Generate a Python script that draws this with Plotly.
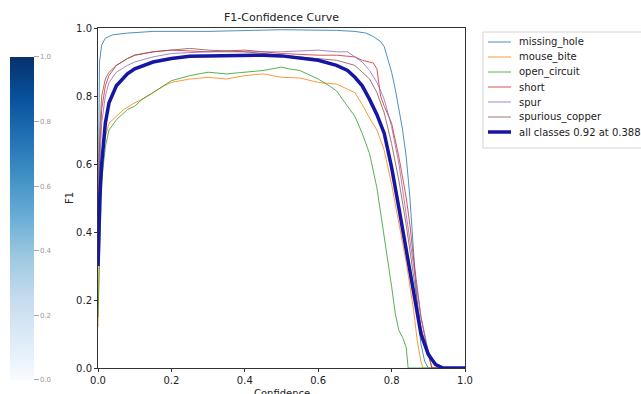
import plotly.graph_objects as go

# ---------------- data ----------------
class_names = ["missing_hole", "mouse_bite", "open_circuit", "short", "spur", "spurious_copper"]
class_colors = ["#1f77b4", "#ff7f0e", "#2ca02c", "#d62728", "#9467bd", "#8c564b"]

missing_hole_x = [0.0, 0.004, 0.01, 0.02, 0.04, 0.08, 0.15, 0.3, 0.5, 0.6, 0.65, 0.7, 0.73, 0.75, 0.77,
                  0.78, 0.79, 0.8, 0.81, 0.82, 0.83, 0.84, 0.85, 0.86, 0.87, 0.88, 0.89, 0.9, 1.0]
missing_hole_y = [0.40, 0.90, 0.95, 0.97, 0.98, 0.985, 0.99, 0.99, 0.995, 0.995, 0.993, 0.99, 0.985, 0.975, 0.96,
                  0.945, 0.91, 0.87, 0.82, 0.76, 0.70, 0.62, 0.50, 0.34, 0.18, 0.07, 0.02, 0.0, 0.0]

mouse_bite_x = [0.0, 0.005, 0.01, 0.02, 0.03, 0.05, 0.07, 0.1, 0.12, 0.15, 0.18, 0.2, 0.25, 0.3, 0.35, 0.4,
                0.45, 0.5, 0.55, 0.6, 0.63, 0.65, 0.68, 0.7, 0.72, 0.74, 0.76, 0.78, 0.8, 0.82, 0.84, 0.86,
                0.87, 0.88, 0.885, 1.0]
mouse_bite_y = [0.12, 0.45, 0.60, 0.68, 0.72, 0.74, 0.76, 0.78, 0.79, 0.81, 0.83, 0.84, 0.85, 0.855, 0.85, 0.86,
                0.865, 0.855, 0.853, 0.84, 0.838, 0.835, 0.82, 0.81, 0.775, 0.735, 0.70, 0.64, 0.54, 0.42, 0.31, 0.17,
                0.08, 0.02, 0.0, 0.0]

open_circuit_x = [0.0, 0.005, 0.01, 0.02, 0.03, 0.05, 0.08, 0.1, 0.12, 0.15, 0.18, 0.2, 0.25, 0.3, 0.35, 0.4,
                  0.45, 0.5, 0.52, 0.55, 0.58, 0.6, 0.63, 0.65, 0.68, 0.7, 0.72, 0.74, 0.76, 0.78, 0.8, 0.81,
                  0.82, 0.83, 0.84, 0.845, 1.0]
open_circuit_y = [0.15, 0.40, 0.55, 0.65, 0.70, 0.73, 0.76, 0.77, 0.79, 0.81, 0.83, 0.845, 0.86, 0.87, 0.865, 0.87,
                  0.875, 0.885, 0.88, 0.875, 0.86, 0.85, 0.83, 0.815, 0.77, 0.74, 0.69, 0.63, 0.53, 0.39, 0.24, 0.16,
                  0.11, 0.09, 0.06, 0.0, 0.0]

short_x = [0.0, 0.005, 0.01, 0.02, 0.03, 0.05, 0.08, 0.1, 0.15, 0.2, 0.3, 0.4, 0.5, 0.6, 0.65, 0.7, 0.72,
           0.75, 0.76, 0.77, 0.78, 0.8, 0.82, 0.84, 0.85, 0.86, 0.88, 0.9, 0.91, 1.0]
short_y = [0.30, 0.65, 0.76, 0.83, 0.86, 0.89, 0.91, 0.92, 0.93, 0.935, 0.93, 0.935, 0.925, 0.92, 0.92, 0.915, 0.905,
           0.897, 0.88, 0.80, 0.77, 0.72, 0.62, 0.50, 0.42, 0.32, 0.15, 0.04, 0.0, 0.0]

spur_x = [0.0, 0.005, 0.01, 0.02, 0.03, 0.05, 0.08, 0.1, 0.15, 0.2, 0.3, 0.4, 0.5, 0.6, 0.65, 0.68, 0.7,
          0.72, 0.74, 0.76, 0.78, 0.8, 0.82, 0.84, 0.86, 0.88, 0.9, 0.92, 0.93, 1.0]
spur_y = [0.30, 0.60, 0.72, 0.80, 0.84, 0.87, 0.89, 0.90, 0.915, 0.925, 0.93, 0.93, 0.93, 0.935, 0.93, 0.93, 0.915,
          0.90, 0.875, 0.84, 0.79, 0.71, 0.60, 0.45, 0.30, 0.15, 0.05, 0.01, 0.0, 0.0]

spurious_copper_x = [0.0, 0.005, 0.01, 0.02, 0.03, 0.05, 0.08, 0.1, 0.15, 0.2, 0.25, 0.3, 0.4, 0.5, 0.6, 0.65,
                     0.7, 0.72, 0.74, 0.76, 0.78, 0.8, 0.82, 0.84, 0.86, 0.88, 0.9, 0.91, 1.0]
spurious_copper_y = [0.45, 0.70, 0.80, 0.85, 0.87, 0.89, 0.91, 0.92, 0.93, 0.935, 0.94, 0.935, 0.93, 0.92, 0.91, 0.905,
                     0.89, 0.87, 0.85, 0.81, 0.75, 0.66, 0.55, 0.42, 0.27, 0.12, 0.04, 0.0, 0.0]

all_x = [0.0, 0.005, 0.01, 0.015, 0.02, 0.03, 0.05, 0.08, 0.1, 0.15, 0.2, 0.25, 0.3, 0.388, 0.45, 0.5, 0.55,
         0.6, 0.65, 0.68, 0.7, 0.72, 0.74, 0.76, 0.78, 0.8, 0.82, 0.84, 0.86, 0.88, 0.9, 0.92, 0.94, 1.0]
all_y = [0.30, 0.50, 0.60, 0.67, 0.72, 0.78, 0.83, 0.865, 0.88, 0.90, 0.91, 0.917, 0.918, 0.92, 0.92, 0.918, 0.912,
         0.905, 0.89, 0.875, 0.855, 0.83, 0.79, 0.745, 0.69, 0.59, 0.47, 0.35, 0.22, 0.10, 0.04, 0.01, 0.0, 0.0]
all_label = "all classes 0.92 at 0.388"
all_color = "rgb(22,22,165)"

colorbar_ticks = [0.0, 0.2, 0.4, 0.6, 0.8, 1.0]
axis_ticks = [0.0, 0.2, 0.4, 0.6, 0.8, 1.0]

blues = ["rgb(247,251,255)", "rgb(222,235,247)", "rgb(198,219,239)", "rgb(158,202,225)",
         "rgb(107,174,214)", "rgb(66,146,198)", "rgb(33,113,181)", "rgb(8,81,156)", "rgb(8,48,107)"]

series_x = [missing_hole_x, mouse_bite_x, open_circuit_x, short_x, spur_x, spurious_copper_x]
series_y = [missing_hole_y, mouse_bite_y, open_circuit_y, short_y, spur_y, spurious_copper_y]

W, H = 641, 394
FONT = "DejaVu Sans"
PL, PR, PT, PB = 98, 465, 28, 368  # plot area in pixels


def px(x):
    return (x - PL) / (PR - PL)


def py(y):
    return (PB - y) / (PB - PT)


fig = go.Figure()
for name, col, xs, ys in zip(class_names, class_colors, series_x, series_y):
    fig.add_trace(go.Scatter(x=xs, y=ys, mode="lines", name=name, showlegend=False,
                             line=dict(color=col, width=1), opacity=0.8))
fig.add_trace(go.Scatter(x=all_x, y=all_y, mode="lines", name=all_label, showlegend=False,
                         line=dict(color=all_color, width=3.5)))

# colour bar on the far left
n = len(blues) - 1
fig.add_trace(go.Scatter(
    x=[None], y=[None], mode="markers", showlegend=False, hoverinfo="skip",
    marker=dict(
        colorscale=[[i / n, c] for i, c in enumerate(blues)],
        cmin=0, cmax=1, color=[0.5], showscale=True,
        colorbar=dict(
            xref="container", x=10 / W, xanchor="left",
            yref="container", y=1 - 66 / H, yanchor="top",
            len=323, lenmode="pixels", thickness=24, thicknessmode="pixels",
            outlinewidth=0, xpad=0, ypad=0,
            tickvals=colorbar_ticks, ticktext=[f"{v:.1f}" for v in colorbar_ticks],
            ticks="outside", ticklen=5, tickcolor="#aaa", tickwidth=1,
            ticklabeloverflow="allow",
            tickfont=dict(size=7, color="#999", family=FONT),
        ),
    ),
))

# legend box drawn by hand (matplotlib-style, tight 15 px rows)
shapes = [dict(type="rect", xref="paper", yref="paper", x0=px(483), x1=px(660), y0=py(148), y1=py(32),
               line=dict(color="#d4d4d4", width=1), fillcolor="white", layer="above")]
annotations = []
legend_names = class_names + [all_label]
legend_colors = class_colors + [all_color]
for i, (nm, col) in enumerate(zip(legend_names, legend_colors)):
    yy = 42 + 15 * i
    last = i == len(legend_names) - 1
    shapes.append(dict(type="line", xref="paper", yref="paper", x0=px(488), x1=px(511), y0=py(yy), y1=py(yy),
                       line=dict(color=col, width=3.5 if last else 1), opacity=1 if last else 0.8, layer="above"))
    annotations.append(dict(text=nm, xref="paper", yref="paper", x=px(517), y=py(yy), xanchor="left",
                            yanchor="middle", showarrow=False, font=dict(size=10, color="#222", family=FONT)))

# x-axis title placed like matplotlib's (partly below the page edge)
annotations.append(dict(text="Confidence", xref="paper", yref="paper", x=0.5, y=py(386), xanchor="center",
                        yanchor="top", showarrow=False, font=dict(size=10, color="#222", family=FONT)))

fig.update_layout(
    width=W, height=H,
    margin=dict(l=PL, r=W - PR, t=PT, b=H - PB, autoexpand=False),
    paper_bgcolor="white", plot_bgcolor="white",
    font=dict(family=FONT, size=10, color="#222"),
    title=dict(text="F1-Confidence Curve", x=(PL + PR) / 2 / W, xanchor="center",
               y=1 - 17 / H, yanchor="middle", font=dict(size=11, color="#222")),
    shapes=shapes, annotations=annotations,
    showlegend=False,
)
fig.update_xaxes(range=[0, 1], tickvals=axis_ticks, ticktext=[f"{v:.1f}" for v in axis_ticks],
                 showgrid=False, zeroline=False, showline=True, mirror=True,
                 linecolor="#333", linewidth=1, ticks="outside", ticklen=3, tickcolor="#333")
fig.update_yaxes(range=[0, 1], tickvals=axis_ticks, ticktext=[f"{v:.1f}" for v in axis_ticks],
                 showgrid=False, zeroline=False, showline=True, mirror=True,
                 linecolor="#333", linewidth=1, ticks="outside", ticklen=3, tickcolor="#333",
                 title=dict(text="F1", standoff=0, font=dict(size=10)))

fig.write_html("out.html")
